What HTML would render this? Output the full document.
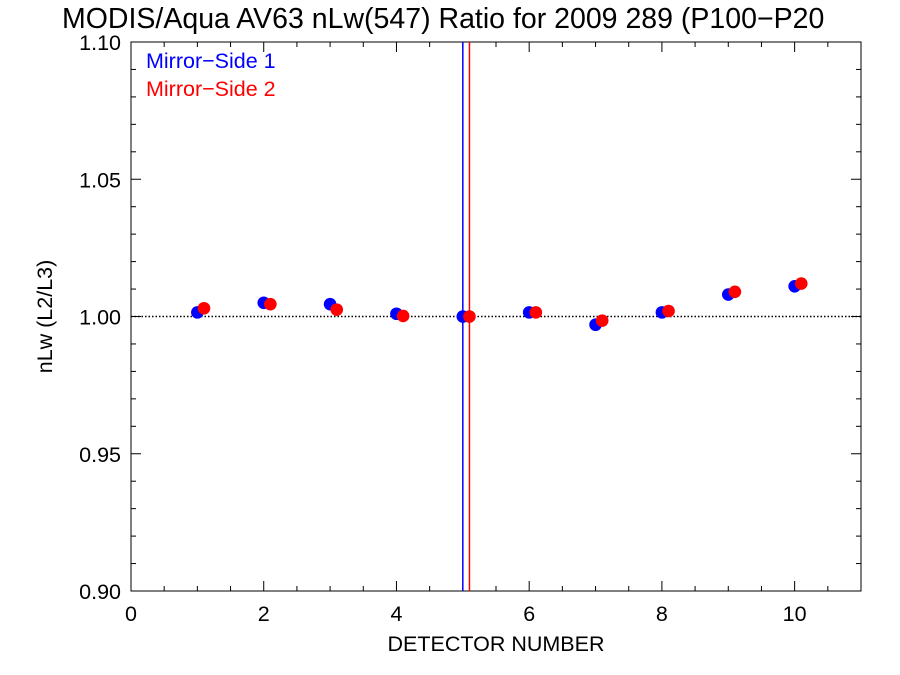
<!DOCTYPE html>
<html><head><meta charset="utf-8"><style>body{margin:0;background:#fff;overflow:hidden}svg{display:block}text{font-family:"Liberation Sans",sans-serif}</style></head>
<body>
<svg id="chart" width="900" height="675"></svg>
<script>
const detectors=[1,2,3,4,5,6,7,8,9,10];
const ms1=[1.0015,1.005,1.0045,1.001,1.000,1.0015,0.997,1.0015,1.008,1.011];
const ms2=[1.003,1.0045,1.0025,1.0002,1.000,1.0015,0.9985,1.002,1.009,1.012];
const xTicks=[0,2,4,6,8,10];
const yTicks=[0.90,0.95,1.00,1.05,1.10];
const msLines=[5,5.1];
const NS='http://www.w3.org/2000/svg';
const svg=document.getElementById('chart');
const L=131,R=861,T=42,B=591;
const X=v=>L+(v-0)/(11-0)*(R-L);
const Y=v=>B-(v-0.90)/(0.20)*(B-T);
function el(t,a,name){const e=document.createElementNS(NS,t);for(const k in a)e.setAttribute(k,a[k]);


svg.appendChild(e);return e;}
function txt(s,a,name){const e=el('text',a,name);e.textContent=s;return e;}
txt('MODIS/Aqua AV63 nLw(547) Ratio for 2009 289 (P100\u2212P20',{x:62,y:28,'font-size':28.5},'chart-title');
el('rect',{x:L,y:T,width:R-L,height:B-T,fill:'none',stroke:'#000','stroke-width':1},'plot-frame');
for(let v=0;v<=11.001;v+=0.5){const maj=Math.abs(v%2)<1e-6;const len=maj?10:5;
el('line',{x1:X(v),x2:X(v),y1:B,y2:B-len,stroke:'#000'},'x-tick');
el('line',{x1:X(v),x2:X(v),y1:T,y2:T+len,stroke:'#000'},'x-tick-top');}
for(let i=0;i<=20;i++){const v=0.90+i*0.01;const maj=i%5==0;const len=maj?10:5;
el('line',{x1:L,x2:L+len,y1:Y(v),y2:Y(v),stroke:'#000'},'y-tick');
el('line',{x1:R,x2:R-len,y1:Y(v),y2:Y(v),stroke:'#000'},'y-tick-right');}
xTicks.forEach(v=>txt(String(v),{x:X(v),y:B+30,'font-size':21.5,'text-anchor':'middle'},'x-tick-label'));
yTicks.forEach(v=>txt(v.toFixed(2),{x:L-10,y:Y(v)+8,'font-size':21.5,'text-anchor':'end'},'y-tick-label'));
txt('DETECTOR NUMBER',{x:(L+R)/2,y:B+60,'font-size':21.5,'text-anchor':'middle'},'x-axis-title');
txt('nLw (L2/L3)',{x:0,y:0,'font-size':21.5,'text-anchor':'middle',transform:`translate(52,${(T+B)/2}) rotate(-90)`},'y-axis-title');
el('line',{x1:L,x2:R,y1:Y(1),y2:Y(1),stroke:'#000','stroke-dasharray':'1.5,2','stroke-width':1.5},'reference-line');
el('line',{x1:X(msLines[0]),x2:X(msLines[0]),y1:T,y2:B,stroke:'#00f','stroke-width':1.5},'ms1-vertical-line');
el('line',{x1:X(msLines[1]),x2:X(msLines[1]),y1:T,y2:B,stroke:'#f00','stroke-width':1.5},'ms2-vertical-line');
detectors.forEach((d,i)=>el('circle',{cx:X(d),cy:Y(ms1[i]),r:6.3,fill:'#00f'},'ms1-point'));
detectors.forEach((d,i)=>el('circle',{cx:X(d+0.1),cy:Y(ms2[i]),r:6.3,fill:'#f00'},'ms2-point'));
txt('Mirror\u2212Side 1',{x:146,y:68,'font-size':21.5,fill:'#00f'},'legend-ms1');
txt('Mirror\u2212Side 2',{x:146,y:96,'font-size':21.5,fill:'#f00'},'legend-ms2');
</script>
</body></html>
